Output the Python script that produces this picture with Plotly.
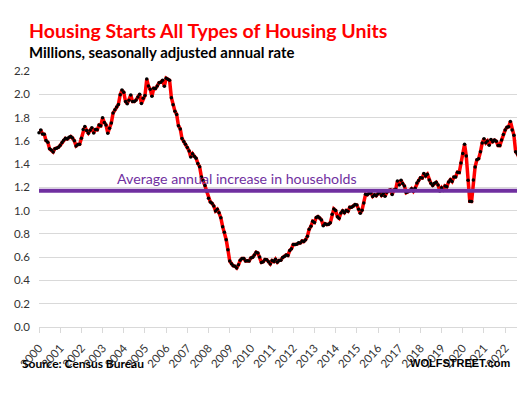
import pandas as pd
import plotly.graph_objects as go

# Housing starts, all types, millions SAAR (3-month moving average as charted), Jan 2000 .. Sep 2022
starts_2000 = [1.670, 1.694, 1.659, 1.656, 1.602, 1.587, 1.532, 1.521, 1.504, 1.532, 1.536, 1.544]
starts_2001 = [1.561, 1.586, 1.605, 1.621, 1.615, 1.630, 1.637, 1.624, 1.600, 1.556, 1.568, 1.570]
starts_2002 = [1.623, 1.698, 1.723, 1.688, 1.666, 1.691, 1.712, 1.668, 1.697, 1.695, 1.735, 1.730]
starts_2003 = [1.798, 1.757, 1.736, 1.666, 1.707, 1.754, 1.838, 1.866, 1.890, 1.913, 1.996, 2.036]
starts_2004 = [2.017, 1.938, 1.918, 1.949, 1.994, 1.937, 1.937, 1.951, 1.977, 2.000, 1.920, 1.965]
starts_2005 = [1.989, 2.131, 2.072, 2.044, 1.983, 2.051, 2.049, 2.072, 2.100, 2.104, 2.121, 2.069]
starts_2006 = [2.138, 2.129, 2.120, 1.970, 1.911, 1.855, 1.827, 1.730, 1.702, 1.620, 1.594, 1.570]
starts_2007 = [1.543, 1.513, 1.461, 1.488, 1.467, 1.451, 1.406, 1.377, 1.289, 1.259, 1.215, 1.166]
starts_2008 = [1.106, 1.075, 1.064, 1.040, 0.997, 1.011, 0.981, 0.938, 0.862, 0.814, 0.750, 0.663]
starts_2009 = [0.567, 0.544, 0.526, 0.522, 0.508, 0.534, 0.573, 0.588, 0.588, 0.568, 0.569, 0.568]
starts_2010 = [0.594, 0.600, 0.618, 0.642, 0.635, 0.602, 0.555, 0.560, 0.580, 0.579, 0.561, 0.542]
starts_2011 = [0.571, 0.562, 0.582, 0.557, 0.572, 0.574, 0.597, 0.605, 0.619, 0.615, 0.657, 0.672]
starts_2012 = [0.708, 0.708, 0.712, 0.723, 0.722, 0.739, 0.735, 0.750, 0.780, 0.839, 0.865, 0.908]
starts_2013 = [0.899, 0.942, 0.949, 0.936, 0.920, 0.871, 0.888, 0.880, 0.883, 0.896, 0.968, 1.015]
starts_2014 = [1.002, 0.948, 0.935, 0.979, 0.998, 0.982, 1.002, 0.994, 1.029, 1.029, 1.040, 1.052]
starts_2015 = [1.049, 1.012, 0.977, 1.004, 1.065, 1.141, 1.136, 1.150, 1.151, 1.122, 1.136, 1.128]
starts_2016 = [1.146, 1.157, 1.131, 1.148, 1.124, 1.158, 1.172, 1.178, 1.138, 1.178, 1.183, 1.254]
starts_2017 = [1.221, 1.262, 1.233, 1.211, 1.155, 1.162, 1.171, 1.188, 1.166, 1.192, 1.238, 1.259]
starts_2018 = [1.282, 1.280, 1.320, 1.298, 1.313, 1.263, 1.235, 1.217, 1.235, 1.243, 1.220, 1.169]
starts_2019 = [1.196, 1.173, 1.212, 1.205, 1.246, 1.266, 1.250, 1.288, 1.290, 1.330, 1.328, 1.410]
starts_2020 = [1.490, 1.570, 1.470, 1.262, 1.080, 1.079, 1.263, 1.376, 1.437, 1.446, 1.505, 1.581]
starts_2021 = [1.618, 1.583, 1.599, 1.562, 1.611, 1.593, 1.606, 1.596, 1.560, 1.559, 1.606, 1.654]
starts_2022 = [1.692, 1.716, 1.720, 1.766, 1.694, 1.647, 1.505, 1.487, 1.449]

avg_household_increase = 1.17
avg_label = "Average annual increase in households"
y_ticks = [0.0, 0.2, 0.4, 0.6, 0.8, 1.0, 1.2, 1.4, 1.6, 1.8, 2.0, 2.2]

starts = (starts_2000 + starts_2001 + starts_2002 + starts_2003 + starts_2004 + starts_2005
          + starts_2006 + starts_2007 + starts_2008 + starts_2009 + starts_2010 + starts_2011
          + starts_2012 + starts_2013 + starts_2014 + starts_2015 + starts_2016 + starts_2017
          + starts_2018 + starts_2019 + starts_2020 + starts_2021 + starts_2022)
months = pd.date_range("2000-01-01", periods=len(starts), freq="MS")

FONT = "Lato"

fig = go.Figure()
fig.add_trace(go.Scatter(
    x=months, y=starts, mode="lines+markers",
    line=dict(color="#FF0000", width=3.5),
    marker=dict(color="#000000", size=3.5),
    cliponaxis=False, showlegend=False, hoverinfo="skip",
))

fig.add_shape(type="line", xref="paper", yref="y", x0=0, x1=1,
              y0=avg_household_increase, y1=avg_household_increase,
              line=dict(color="#7030A0", width=4), layer="above")

fig.add_annotation(text=avg_label, xref="paper", yref="y", x=0.158, y=1.275,
                   xanchor="left", yanchor="middle", showarrow=False,
                   font=dict(family=FONT, size=14.2, color="#7030A0"))

fig.add_annotation(text="<b>Housing Starts All Types of Housing Units</b>",
                   xref="paper", yref="paper", x=-0.025, y=1.158,
                   xanchor="left", yanchor="middle", showarrow=False,
                   font=dict(family=FONT, size=19.5, color="#FF0000"))
fig.add_annotation(text="<b>Millions, seasonally adjusted annual rate</b>",
                   xref="paper", yref="paper", x=-0.025, y=1.076,
                   xanchor="left", yanchor="middle", showarrow=False,
                   font=dict(family=FONT, size=14.9, color="#000000"))
fig.add_annotation(text="<b>Source: Census Bureau</b>",
                   xref="paper", yref="paper", x=-0.039, y=-0.141,
                   xanchor="left", yanchor="middle", showarrow=False,
                   font=dict(family=FONT, size=12, color="#000000"))
fig.add_annotation(text="<b>WOLFSTREET.com</b>",
                   xref="paper", yref="paper", x=0.981, y=-0.141,
                   xanchor="right", yanchor="middle", showarrow=False,
                   font=dict(family="Liberation Sans", size=11, color="#000000"))

fig.update_layout(
    width=517, height=391,
    margin=dict(l=31, r=4, t=63, b=72, autoexpand=False),
    paper_bgcolor="white", plot_bgcolor="white",
    font=dict(family=FONT, size=10, color="#333333"),
    xaxis=dict(
        range=["2000-01-01", "2022-10-01"], automargin=False,
        dtick="M12", tick0="2000-01-01", tickformat="%Y", tickangle=-48,
        ticks="outside", ticklen=5, tickcolor="#D9D9D9", ticklabelstandoff=4,
        showgrid=False, showline=True, linecolor="#D9D9D9", linewidth=1,
        zeroline=False, tickfont=dict(family=FONT, size=11.5, color="#333333"),
    ),
    yaxis=dict(
        range=[0, 2.2], tickvals=y_ticks, tickformat=".1f", automargin=False,
        showgrid=True, gridcolor="#D9D9D9", gridwidth=1, ticklabelstandoff=8,
        zeroline=False, showline=False, ticks="",
        tickfont=dict(family=FONT, size=11.5, color="#333333"),
    ),
)

fig.write_html("out.html")
